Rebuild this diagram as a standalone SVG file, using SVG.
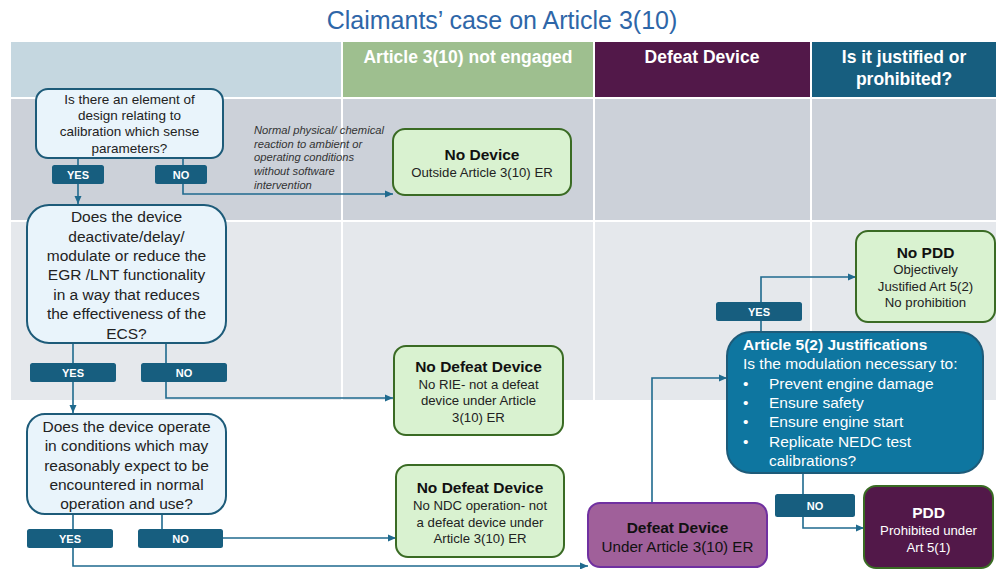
<svg xmlns="http://www.w3.org/2000/svg" width="996" height="569" viewBox="0 0 996 569">
<style>
text{font-family:"Liberation Sans",Arial,sans-serif}
.title{font-size:25px;fill:#2e66a8}
.hdr{font-size:17.5px;font-weight:bold;fill:#fff}
.q{fill:#e9f4fb;stroke:#1d5b79;stroke-width:2}
.qt{font-size:15.5px;fill:#222}
.qt1{font-size:13.5px;fill:#222}
.lab{fill:#175e7f}
.labt{font-size:11px;font-weight:bold;fill:#fff}
.g{fill:#d9f2d0;stroke:#3a6b24;stroke-width:2}
.bt{font-size:15.5px;font-weight:bold;fill:#111}
.st{font-size:13.2px;fill:#222}
.it{font-size:11.2px;font-style:italic;fill:#333}
.conn{fill:none;stroke:#1f6a8e;stroke-width:1.6}
.a5{font-size:15.5px;fill:#fff}
</style>
<defs>
<marker id="ah" viewBox="0 0 8 8" refX="8" refY="4" markerWidth="8" markerHeight="8" markerUnits="userSpaceOnUse" orient="auto">
<path d="M0,0.5 L8,4 L0,7.5 z" fill="#1f6a8e"/>
</marker>
</defs>
<rect width="996" height="569" fill="#fff"/>
<text class="title" x="502" y="29" text-anchor="middle">Claimants’ case on Article 3(10)</text>
<g id="background">
<rect x="11" y="42" width="330" height="55" fill="#c5d7e0"/>
<rect x="343" y="42" width="250" height="55" fill="#9ebf8f"/>
<rect x="595" y="42" width="215" height="55" fill="#521849"/>
<rect x="812" y="42" width="184" height="55" fill="#175e7f"/>
<rect x="11" y="99" width="330" height="121" fill="#ccd1d9"/>
<rect x="343" y="99" width="250" height="121" fill="#ccd1d9"/>
<rect x="595" y="99" width="215" height="121" fill="#ccd1d9"/>
<rect x="812" y="99" width="184" height="121" fill="#ccd1d9"/>
<rect x="11" y="222" width="330" height="178" fill="#e5e8ec"/>
<rect x="343" y="222" width="250" height="178" fill="#e5e8ec"/>
<rect x="595" y="222" width="215" height="178" fill="#e5e8ec"/>
<rect x="812" y="222" width="184" height="178" fill="#e5e8ec"/>
<text class="hdr" x="468" y="63" text-anchor="middle">Article 3(10) not engaged</text>
<text class="hdr" x="702" y="63" text-anchor="middle">Defeat Device</text>
<text class="hdr" x="904" y="63" text-anchor="middle">Is it justified or</text>
<text class="hdr" x="904" y="85" text-anchor="middle">prohibited?</text>
</g>
<g id="connectors">
<path class="conn" d="M78,158 V204" marker-end="url(#ah)"/>
<path class="conn" d="M183,158 V194 H393" marker-end="url(#ah)"/>
<path class="conn" d="M73,343 V413" marker-end="url(#ah)"/>
<path class="conn" d="M166,343 V398 H393" marker-end="url(#ah)"/>
<path class="conn" d="M73,514 V566 H588" marker-end="url(#ah)"/>
<path class="conn" d="M162,514 V529"/>
<path class="conn" d="M223,538 H396" marker-end="url(#ah)"/>
<path class="conn" d="M652,503 V378 H727" marker-end="url(#ah)"/>
<path class="conn" d="M761,332 V277 H856" marker-end="url(#ah)"/>
<path class="conn" d="M803,473 V528 H864" marker-end="url(#ah)"/>
<text class="it" x="254" y="134">Normal physical/ chemical</text>
<text class="it" x="254" y="147.5">reaction to ambient or</text>
<text class="it" x="254" y="161">operating conditions</text>
<text class="it" x="254" y="175">without software</text>
<text class="it" x="254" y="189">intervention</text>
<rect class="lab" x="52" y="165" width="52" height="19" rx="2.5"/>
<text class="labt" x="78" y="178.5" text-anchor="middle">YES</text>
<rect class="lab" x="155" y="165" width="52" height="19" rx="2.5"/>
<text class="labt" x="181" y="178.5" text-anchor="middle">NO</text>
<rect class="lab" x="30" y="363" width="86" height="19" rx="2.5"/>
<text class="labt" x="73" y="376.5" text-anchor="middle">YES</text>
<rect class="lab" x="141" y="363" width="86" height="19" rx="2.5"/>
<text class="labt" x="184" y="376.5" text-anchor="middle">NO</text>
<rect class="lab" x="27" y="529" width="86" height="19" rx="2.5"/>
<text class="labt" x="70" y="542.5" text-anchor="middle">YES</text>
<rect class="lab" x="138" y="529" width="85" height="19" rx="2.5"/>
<text class="labt" x="180.5" y="542.5" text-anchor="middle">NO</text>
<rect class="lab" x="716" y="302" width="86" height="19" rx="2.5"/>
<text class="labt" x="759" y="315.5" text-anchor="middle">YES</text>
<rect class="lab" x="775" y="494" width="80" height="23" rx="2.5"/>
<text class="labt" x="815" y="509.5" text-anchor="middle">NO</text>
</g>
<g id="q1">
<rect class="q" x="36" y="89" width="187" height="69" rx="12"/>
<text class="qt1" text-anchor="middle" x="129.5" y="103.8">Is there an element of</text>
<text class="qt1" text-anchor="middle" x="129.5" y="120">design relating to</text>
<text class="qt1" text-anchor="middle" x="129.5" y="136.3">calibration which sense</text>
<text class="qt1" text-anchor="middle" x="129.5" y="152.6">parameters?</text>
</g>
<g id="q2">
<rect class="q" x="27" y="205" width="199" height="138" rx="22"/>
<text class="qt" text-anchor="middle" x="126.5" y="221.5">Does the device</text>
<text class="qt" text-anchor="middle" x="126.5" y="241.5">deactivate/delay/</text>
<text class="qt" text-anchor="middle" x="126.5" y="260.5">modulate or reduce the</text>
<text class="qt" text-anchor="middle" x="126.5" y="279.5">EGR /LNT functionality</text>
<text class="qt" text-anchor="middle" x="126.5" y="299.5">in a way that reduces</text>
<text class="qt" text-anchor="middle" x="126.5" y="318.5">the effectiveness of the</text>
<text class="qt" text-anchor="middle" x="126.5" y="338.5">ECS?</text>
</g>
<g id="q3">
<rect class="q" x="27" y="414" width="199" height="100" rx="18"/>
<text class="qt" text-anchor="middle" x="126.5" y="431.5">Does the device operate</text>
<text class="qt" text-anchor="middle" x="126.5" y="450.5">in conditions which may</text>
<text class="qt" text-anchor="middle" x="126.5" y="470.5">reasonably expect to be</text>
<text class="qt" text-anchor="middle" x="126.5" y="489.5">encountered in normal</text>
<text class="qt" text-anchor="middle" x="126.5" y="508.5">operation and use?</text>
</g>
<g id="no-device">
<rect class="g" x="393" y="129" width="178" height="66" rx="12"/>
<text class="bt" text-anchor="middle" x="482" y="159.5">No Device</text>
<text class="st" text-anchor="middle" x="482" y="176.5">Outside Article 3(10) ER</text>
</g>
<g id="no-defeat-1">
<rect class="g" x="394" y="346" width="169" height="89" rx="12"/>
<text class="bt" text-anchor="middle" x="478.5" y="371.5">No Defeat Device</text>
<text class="st" text-anchor="middle" x="478.5" y="388.5">No RIE- not a defeat</text>
<text class="st" text-anchor="middle" x="478.5" y="404.5">device under Article</text>
<text class="st" text-anchor="middle" x="478.5" y="421.5">3(10) ER</text>
</g>
<g id="no-defeat-2">
<rect class="g" x="396" y="465" width="168" height="92" rx="12"/>
<text class="bt" text-anchor="middle" x="480" y="492.5">No Defeat Device</text>
<text class="st" text-anchor="middle" x="480" y="509.5">No NDC operation- not</text>
<text class="st" text-anchor="middle" x="480" y="526.5">a defeat device under</text>
<text class="st" text-anchor="middle" x="480" y="542.5">Article 3(10) ER</text>
</g>
<g id="defeat-device">
<rect x="588" y="503" width="179" height="64" rx="12" fill="#a0609a" stroke="#7030a0" stroke-width="2"/>
<text class="bt" text-anchor="middle" x="677.5" y="532.5">Defeat Device</text>
<text text-anchor="middle" x="677.5" y="551.5" font-size="15.2" fill="#111">Under Article 3(10) ER</text>
</g>
<g id="art52">
<rect x="727" y="332" width="256" height="141" rx="24" fill="#0e76a0" stroke="#1d5b79" stroke-width="2"/>
<text class="a5" x="743" y="349.5" font-weight="bold">Article 5(2) Justifications</text>
<text class="a5" x="743" y="368.5">Is the modulation necessary to:</text>
<text class="a5" x="743" y="388.5">•</text>
<text class="a5" x="769" y="388.5">Prevent engine damage</text>
<text class="a5" x="743" y="407.5">•</text>
<text class="a5" x="769" y="407.5">Ensure safety</text>
<text class="a5" x="743" y="426.5">•</text>
<text class="a5" x="769" y="426.5">Ensure engine start</text>
<text class="a5" x="743" y="446.5">•</text>
<text class="a5" x="769" y="446.5">Replicate NEDC test</text>
<text class="a5" x="769" y="465.5">calibrations?</text>
</g>
<g id="no-pdd">
<rect class="g" x="856" y="231" width="139" height="91" rx="12"/>
<text class="bt" text-anchor="middle" x="925.5" y="257.5">No PDD</text>
<text class="st" text-anchor="middle" x="925.5" y="273.5">Objectively</text>
<text class="st" text-anchor="middle" x="925.5" y="290.5">Justified Art 5(2)</text>
<text class="st" text-anchor="middle" x="925.5" y="306.5">No prohibition</text>
</g>
<g id="pdd">
<rect x="864" y="486" width="129" height="82" rx="12" fill="#521849" stroke="#3a6b24" stroke-width="2"/>
<text text-anchor="middle" x="928.5" y="517.5" font-size="15.5" font-weight="bold" fill="#fff">PDD</text>
<text text-anchor="middle" x="928.5" y="534.5" font-size="13.2" fill="#fff">Prohibited under</text>
<text text-anchor="middle" x="928.5" y="551.5" font-size="13.2" fill="#fff">Art 5(1)</text>
</g>
</svg>
